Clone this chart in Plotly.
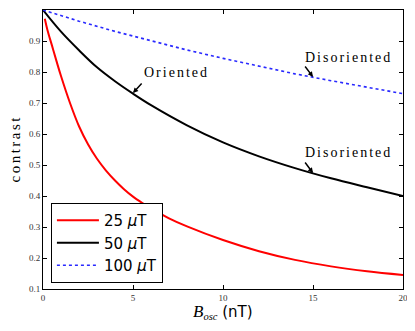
import plotly.graph_objects as go

# values
x_25 = [0.1, 0.25, 0.5, 0.75, 1.0, 1.5, 2.0, 2.5, 3.0, 3.5, 4.0, 4.5, 5.0, 5.5, 6.0, 7.0, 8.0,
        10.0, 12.0, 14.0, 16.0, 18.0, 20.0]
y_25 = [0.972, 0.935, 0.885, 0.835, 0.787, 0.700, 0.625, 0.567, 0.520, 0.482, 0.450, 0.422, 0.398,
        0.378, 0.360, 0.328, 0.302, 0.258, 0.222, 0.194, 0.173, 0.157, 0.145]

x_50 = [0, 1, 2, 3, 4, 5, 6, 8, 10, 12, 14, 16, 18, 20]
y_50 = [1.0, 0.93, 0.87, 0.815, 0.77, 0.73, 0.693, 0.628, 0.573, 0.528, 0.49, 0.457, 0.428, 0.40]

x_100 = [0, 2, 4, 6, 8, 10, 12, 14, 16, 18, 20]
y_100 = [1.0, 0.964, 0.931, 0.90, 0.871, 0.844, 0.818, 0.794, 0.772, 0.75, 0.73]

names = ["25 <i>μ</i>T", "50 <i>μ</i>T", "100 <i>μ</i>T"]

x_ticks = [0, 5, 10, 15, 20]
y_ticks = [0.1, 0.2, 0.3, 0.4, 0.5, 0.6, 0.7, 0.8, 0.9, 1.0]

# (label, point x, point y, label x, label y, arrow dx, arrow dy)
notes = [
    ("Oriented", 5.0, 0.732, 5.5, 0.797, 10, -11),
    ("Disoriented", 15.0, 0.784, 14.45, 0.848, -9, -12),
    ("Disoriented", 15.0, 0.474, 14.45, 0.539, -9, -12),
]

SERIF = "Liberation Serif, Times New Roman, serif"
SANS = "DejaVu Sans, sans-serif"

fig = go.Figure()

fig.add_trace(go.Scatter(x=x_25, y=y_25, mode="lines", name=names[0], line_shape="spline",
                         line=dict(color="#ff0000", width=2), legendgroup="a"))
fig.add_trace(go.Scatter(x=x_50, y=y_50, mode="lines", name=names[1], line_shape="spline",
                         line=dict(color="#000000", width=2), legendgroup="b"))
fig.add_trace(go.Scatter(x=x_100, y=y_100, mode="lines", name=names[2],
                         line=dict(color="#2a2aff", width=1.6, dash="dot"), legendgroup="c"))

for label, px, py, tx, ty, dx, dy in notes:
    fig.add_annotation(x=px, y=py, ax=dx, ay=dy, text="", showarrow=True,
                       arrowhead=2, arrowsize=0.7, arrowwidth=1.5, arrowcolor="black")
    fig.add_annotation(x=tx, y=ty, xanchor="left", yanchor="middle", showarrow=False,
                       text=f"<span style='letter-spacing:2px'>{label}</span>",
                       font=dict(family=SERIF, size=14, color="black"))

# axis titles
fig.add_annotation(xref="paper", yref="paper", x=0.5, y=0, yanchor="top", yshift=-11,
                   showarrow=False,
                   text=("<span style='font-family:Liberation Serif;font-size:17px'><i>B</i></span>"
                         "<sub><span style='font-family:Liberation Serif'><i>osc</i></span></sub> (nT)"),
                   font=dict(family=SANS, size=15, color="black"))
fig.add_annotation(xref="paper", yref="paper", x=0, y=0.5, xanchor="center", xshift=-29,
                   textangle=-90, showarrow=False,
                   text="<span style='letter-spacing:2.5px'>contrast</span>",
                   font=dict(family=SERIF, size=15, color="black"))

axis_common = dict(
    showline=True, linecolor="black", linewidth=1, mirror="allticks",
    ticks="inside", ticklen=4, tickcolor="black", showgrid=False, zeroline=False,
    tickfont=dict(family=SERIF, size=9, color="#333333"),
)

fig.update_xaxes(range=[0, 20], tickvals=x_ticks, **axis_common)
fig.update_yaxes(range=[0.1, 1.0], tickvals=y_ticks, tickformat=".1f", **axis_common)

# the page body adds an 8px margin, so the figure is made 8px smaller on each axis
fig.update_layout(
    width=407, height=323,
    margin=dict(l=35, r=12, t=2, b=42, autoexpand=False),
    plot_bgcolor="white", paper_bgcolor="white",
    showlegend=True,
    legend=dict(x=0.022, y=0.308, xanchor="left", yanchor="top",
                bgcolor="white", bordercolor="black", borderwidth=1,
                font=dict(family=SANS, size=15, color="black"),
                itemwidth=42, tracegroupgap=0, traceorder="normal"),
)

fig.write_html("out.html")
